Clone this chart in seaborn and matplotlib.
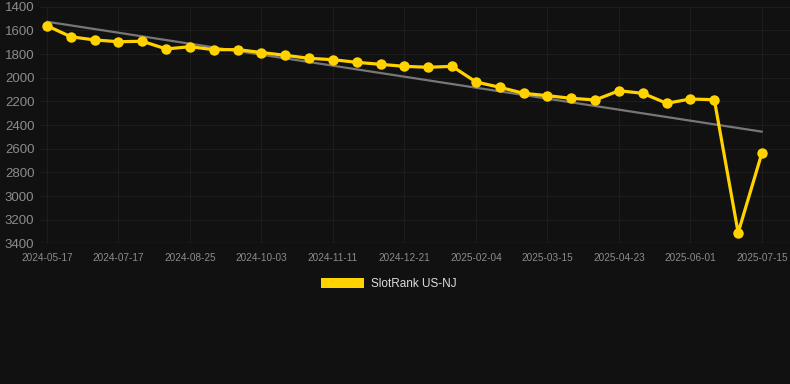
import matplotlib
matplotlib.use("Agg")
import matplotlib.pyplot as plt
import matplotlib.patches as mpatches
import seaborn as sns
import pandas as pd
import numpy as np

# ---- data ----
tick_labels = ["2024-05-17", "2024-07-17", "2024-08-25", "2024-10-03", "2024-11-11",
               "2024-12-21", "2025-02-04", "2025-03-15", "2025-04-23", "2025-06-01",
               "2025-07-15"]
rank_values = [1561, 1654, 1681, 1696, 1692, 1757, 1738, 1763, 1763, 1787,
               1811, 1836, 1848, 1870, 1887, 1904, 1912, 1904, 2036, 2081,
               2132, 2152, 2174, 2188, 2110, 2132, 2216, 2180, 2186, 3310,
               2634]
trend_start = 1527
trend_end = 2456
series_name = "SlotRank US-NJ"
y_ticks = [1400, 1600, 1800, 2000, 2200, 2400, 2600, 2800, 3000, 3200, 3400]

# ---- style ----
bg = "#111111"
gold = "#FFD200"
sns.set_theme(style="dark")
plt.rcParams["font.family"] = ["Liberation Sans", "DejaVu Sans"]

W, H = 790, 384
fig = plt.figure(figsize=(W / 100, H / 100), dpi=100, facecolor=bg)
ax = fig.add_axes([40 / W, 1 - 243.4 / H, 750 / W, (243.4 - 6.7) / H])
ax.set_facecolor(bg)

idx = list(range(len(rank_values)))
df = pd.DataFrame({"idx": idx, "rank": rank_values})

# trend line
ax.plot([idx[0], idx[-1]], [trend_start, trend_end], color="#777777", lw=1.6, zorder=2)

sns.lineplot(data=df, x="idx", y="rank", ax=ax, color=gold, lw=2.3,
             marker="o", markersize=7.5, markeredgewidth=0, zorder=3, legend=False)

ax.set_ylim(3400, 1400)
ax.set_yticks(y_ticks)
ax.set_yticklabels([str(v) for v in y_ticks])
ax.set_xlim((40 - 47) / 23.833, (790 - 47) / 23.833)
ax.set_xticks(idx[::3])
ax.set_xticklabels(tick_labels)
ax.set_xlabel("")
ax.set_ylabel("")

ax.grid(True, color="#1d1d1d", lw=0.8)
for s in ax.spines.values():
    s.set_visible(False)
ax.axhline(3400, color="#2a2a2a", lw=1, zorder=1)
ax.tick_params(axis="y", colors="#8c8c8c", labelsize=9.5, length=0, pad=4)
ax.tick_params(axis="x", colors="#8c8c8c", labelsize=7.2, length=0, pad=7)

handle = mpatches.Patch(facecolor=gold, edgecolor="none", label=series_name)
leg = fig.legend(handles=[handle], loc="center", bbox_to_anchor=(389 / W, 1 - 284 / H),
                 frameon=False, fontsize=8.5, handlelength=3.6, handleheight=1.0,
                 handletextpad=0.6, labelcolor="#dddddd")

fig.savefig("out.png", dpi=100, facecolor=bg)
